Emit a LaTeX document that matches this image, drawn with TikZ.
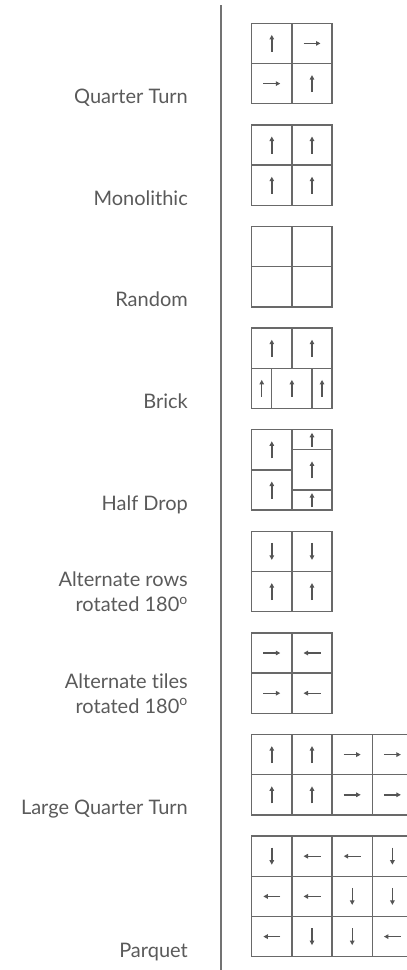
\documentclass[tikz,border=0pt]{standalone}
\usepackage{fontspec}
\setmainfont[Ligatures={NoCommon,NoRare}]{Lato}
\usetikzlibrary{arrows.meta}
\definecolor{tileLine}{RGB}{105,105,105}
\definecolor{tileArrow}{RGB}{85,85,85}
\definecolor{labText}{RGB}{90,90,90}
\definecolor{divLine}{RGB}{115,115,115}

\begin{document}
\begin{tikzpicture}[
  x=1pt, y=-1pt,
  font=\fontsize{20}{25}\selectfont,
  tile/.style={draw=tileLine, line width=1.3pt},
  dir/.style={draw=tileArrow, line width=1.4pt, -{Triangle[length=4.5pt,width=4.5pt]}},
  lab/.style={anchor=base east, align=right, text=labText, inner sep=0pt}
]
\useasboundingbox (0,0) rectangle (407,970);
\clip (0,0) rectangle (407,970);
\def\gx{251.7}
\def\cs{40.2}
% divider
\draw[divLine, line width=1.8pt] (220.6,5) -- (220.6,970);

% 2x2 tiles with one arrow per cell
\foreach \t/\a/\b/\c/\d in {23.3/90/0/0/90, 124.9/90/90/90/90,
                            531.3/270/270/90/90, 632.9/0/180/0/180} {
  \draw[tile] (\gx,\t) rectangle ++(2*\cs,2*\cs);
  \draw[tile] (\gx+\cs,\t) -- ++(0,2*\cs) (\gx,\t+\cs) -- ++(2*\cs,0);
  \foreach \i/\j/\ang in {0/0/\a, 1/0/\b, 0/1/\c, 1/1/\d}
    \draw[dir] (\gx+\i*\cs+\cs/2,\t+\j*\cs+\cs/2) ++({\ang+180}:8.5pt) -- ++(\ang:17pt);
}

% random
\def\t{226.5}
\draw[tile] (\gx,\t) rectangle ++(2*\cs,2*\cs);
\draw[tile] (\gx+\cs,\t) -- ++(0,2*\cs) (\gx,\t+\cs) -- ++(2*\cs,0);

% brick
\def\t{328.1}
\draw[tile] (\gx,\t) rectangle ++(2*\cs,2*\cs);
\draw[tile] (\gx+\cs,\t) -- ++(0,\cs) (\gx,\t+\cs) -- ++(2*\cs,0);
\draw[tile] (\gx+\cs/2,\t+\cs) -- ++(0,\cs) (\gx+1.5*\cs,\t+\cs) -- ++(0,\cs);
\foreach \x/\y in {0.5/0.5, 1.5/0.5, 0.25/1.5, 1/1.5, 1.75/1.5}
  \draw[dir] (\gx+\x*\cs,\t+\y*\cs) ++(270:8.5pt) -- ++(90:17pt);

% half drop
\def\t{429.7}
\draw[tile] (\gx,\t) rectangle ++(2*\cs,2*\cs);
\draw[tile] (\gx+\cs,\t) -- ++(0,2*\cs) (\gx,\t+\cs) -- ++(\cs,0);
\draw[tile] (\gx+\cs,\t+\cs/2) -- ++(\cs,0) (\gx+\cs,\t+1.5*\cs) -- ++(\cs,0);
\foreach \x/\y/\l in {0.5/0.5/17, 0.5/1.5/17, 1.5/0.25/14, 1.5/1/17, 1.5/1.75/14}
  \draw[dir] (\gx+\x*\cs,\t+\y*\cs) ++(270:\l pt/2) -- ++(90:\l pt);

% large quarter turn
\def\t{734.5}
\draw[tile] (\gx,\t) rectangle ++(4*\cs,2*\cs);
\foreach \i in {1,2,3}
  \draw[tile] (\gx+\i*\cs,\t) -- ++(0,2*\cs);
\draw[tile] (\gx,\t+\cs) -- ++(4*\cs,0);
\foreach \i/\j/\ang in {0/0/90, 1/0/90, 2/0/0, 3/0/0, 0/1/90, 1/1/90, 2/1/0, 3/1/0}
  \draw[dir] (\gx+\i*\cs+\cs/2,\t+\j*\cs+\cs/2) ++({\ang+180}:8.5pt) -- ++(\ang:17pt);

% parquet
\def\t{836.1}
\draw[tile] (\gx,\t) rectangle ++(4*\cs,3*\cs);
\foreach \i in {1,2,3}
  \draw[tile] (\gx+\i*\cs,\t) -- ++(0,3*\cs);
\foreach \j in {1,2}
  \draw[tile] (\gx,\t+\j*\cs) -- ++(4*\cs,0);
\foreach \i/\j/\ang in {0/0/270, 1/0/180, 2/0/180, 3/0/270,
                        0/1/180, 1/1/180, 2/1/270, 3/1/270,
                        0/2/180, 1/2/270, 2/2/270, 3/2/180}
  \draw[dir] (\gx+\i*\cs+\cs/2,\t+\j*\cs+\cs/2) ++({\ang+180}:8.5pt) -- ++(\ang:17pt);

% labels
\node[lab] (lab-qturn) at (188,103.7) {Quarter Turn};
\node[lab] (lab-mono) at (188,205.3) {Monolithic};
\node[lab] (lab-random) at (188,306.9) {Random};
\node[lab] (lab-brick) at (188,408.5) {Brick};
\node[lab] (lab-halfdrop) at (188,510.1) {Half Drop};
\node[lab] (lab-altrows) at (188,611.7) {Alternate rows\\rotated 180\textsuperscript{o}};
\node[lab] (lab-alttiles) at (188,713.3) {Alternate tiles\\rotated 180\textsuperscript{o}};
\node[lab] (lab-lqturn) at (188,814.9) {Large Quarter Turn};
\node[lab] (lab-parquet) at (188,957) {Parquet};
\end{tikzpicture}
\end{document}
